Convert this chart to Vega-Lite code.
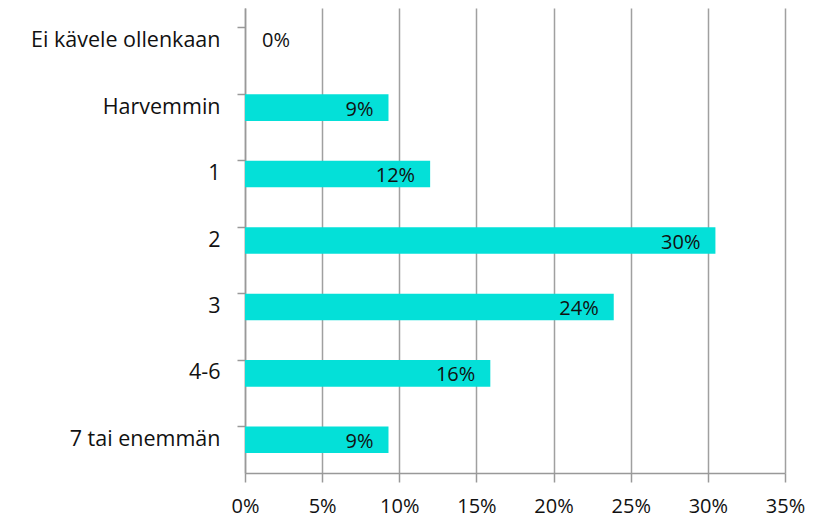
{
  "$schema": "https://vega.github.io/schema/vega-lite/v6.json",
  "width": 540,
  "height": 465,
  "autosize": {"type": "none"},
  "padding": {"left": 245, "top": 8, "right": 28, "bottom": 50},
  "background": "white",
  "config": {"view": {"stroke": null}, "font": "Open Sans"},
  "data": {"values": [
    {"cat": "Ei kävele ollenkaan", "v": 0.0},
    {"cat": "Harvemmin", "v": 0.093},
    {"cat": "1", "v": 0.12},
    {"cat": "2", "v": 0.3049},
    {"cat": "3", "v": 0.239},
    {"cat": "4-6", "v": 0.159},
    {"cat": "7 tai enemmän", "v": 0.093}
  ]},
  "encoding": {
    "y": {"field": "cat", "type": "nominal", "sort": null,
      "scale": {"paddingInner": 0.6, "paddingOuter": 0.3},
      "axis": {"title": null, "bandPosition": 0, "grid": false, "domainColor": "#999", "domainWidth": 1.5,
        "tickColor": "#999", "tickWidth": 1.5, "tickSize": 8, "labelFontSize": 21.5, "labelColor": "#111",
        "labelPadding": 17, "labelLimit": 300}},
    "x": {"field": "v", "type": "quantitative",
      "scale": {"domain": [0, 0.35], "nice": false},
      "axis": {"title": null, "format": ".0%", "values": [0, 0.05, 0.1, 0.15, 0.2, 0.25, 0.3, 0.35],
        "labelOverlap": false, "labelFlush": false,
        "grid": true, "gridColor": "#a0a0a0", "gridWidth": 1.5, "domainColor": "#999", "domainWidth": 1.5,
        "tickColor": "#999", "tickWidth": 1.5, "tickSize": 9, "labelFontSize": 20, "labelColor": "#111",
        "labelPadding": 14}}
  },
  "layer": [
    {"mark": {"type": "bar", "color": "#04E0D8"}},
    {"transform": [{"filter": "datum.v > 0"}],
     "mark": {"type": "text", "align": "right", "baseline": "middle", "dx": -15, "dy": 2, "fontSize": 20, "color": "#111"},
     "encoding": {"text": {"field": "v", "type": "quantitative", "format": ".0%"}}},
    {"transform": [{"filter": "datum.v == 0"}],
     "mark": {"type": "text", "align": "right", "baseline": "middle", "dx": 45, "dy": 0, "fontSize": 20, "color": "#111"},
     "encoding": {"text": {"field": "v", "type": "quantitative", "format": ".0%"}}}
  ]
}
